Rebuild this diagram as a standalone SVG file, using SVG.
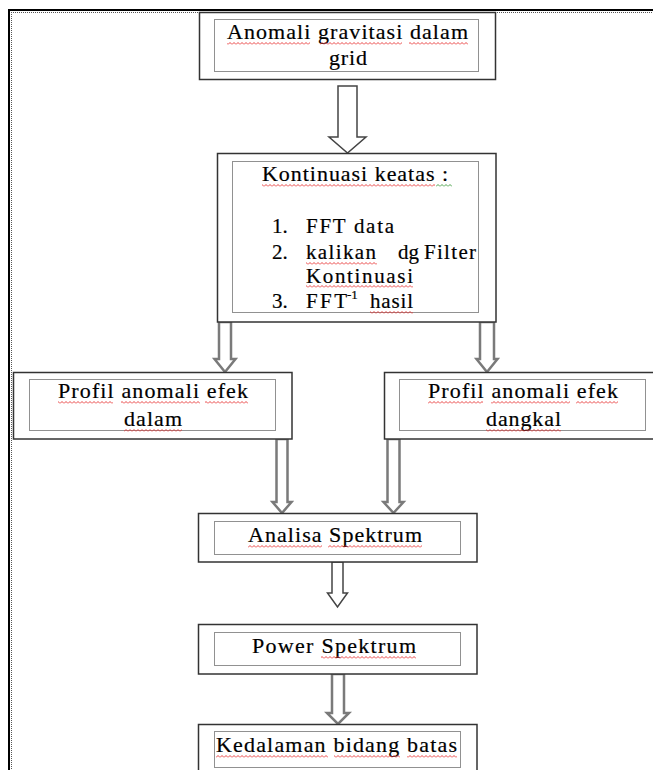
<svg xmlns="http://www.w3.org/2000/svg" width="653" height="770" viewBox="0 0 653 770">
<style>
.box{fill:#fff;stroke:#333;stroke-width:1.5}
.inner{fill:none;stroke:#222;stroke-width:1;stroke-dasharray:1 1}
.t{font-family:"Liberation Serif","Times New Roman",serif;font-size:22px;fill:#000;stroke:#000;stroke-width:0.2}
.s{font-size:21px}
.arB{fill:#fff;stroke:#444;stroke-width:1.5;stroke-linejoin:miter}
.arG{fill:#fff;stroke:#7a7a7a;stroke-width:2.5;stroke-linejoin:miter}
.wr{fill:url(#waveR)}
.wg{fill:url(#waveG)}
</style>
<defs>
<pattern id="waveR" width="4" height="3" patternUnits="userSpaceOnUse"><path d="M0 2.5 L2 0.5 L4 2.5" fill="none" stroke="#e83030" stroke-width="0.9"/></pattern>
<pattern id="waveG" width="4" height="3" patternUnits="userSpaceOnUse"><path d="M0 2.5 L2 0.5 L4 2.5" fill="none" stroke="#3a9a3a" stroke-width="0.9"/></pattern>
</defs>
<rect width="653" height="770" fill="#fff"/>
<g id="frame">
<line x1="8" y1="10" x2="653" y2="10" stroke="#000" stroke-width="2"/>
<line x1="9" y1="9" x2="9" y2="770" stroke="#000" stroke-width="2"/>
<line x1="11" y1="12.5" x2="653" y2="12.5" stroke="#555" stroke-width="1" stroke-dasharray="1 1"/>
<line x1="11.5" y1="12" x2="11.5" y2="770" stroke="#555" stroke-width="1" stroke-dasharray="1 1"/>
</g>
<g id="connectors">
<polygon class="arB" points="338,86 357,86 357,137 366,137 347.5,153 329,137 338,137"/>
<polygon class="arG" points="219,322 231,322 231,359 235.5,359 225,372 214.5,359 219,359"/>
<polygon class="arG" points="480,322 494,322 494,359 497.5,359 487,372 476.5,359 480,359"/>
<polygon class="arG" points="276.5,439 287.5,439 287.5,502 291.5,502 282,513 272.5,502 276.5,502"/>
<polygon class="arG" points="387.5,439 399.5,439 399.5,502 403.5,502 393.5,513 383.5,502 387.5,502"/>
<polygon class="arB" points="332,562 343,562 343,593 347.5,593 337.5,607 327.5,593 332,593"/>
<polygon class="arG" points="332,674 344,674 344,713 349,713 338,724 327,713 332,713"/>
</g>
<g id="n1">
<rect class="box" x="199.5" y="12.5" width="296" height="67"/>
<rect class="inner" x="214.5" y="19.5" width="264" height="52"/>
<text class="t" x="227" y="39" textLength="241" lengthAdjust="spacing">Anomali gravitasi dalam</text>
<text class="t" x="329" y="65" textLength="38" lengthAdjust="spacing">grid</text>
<g transform="translate(0,39)"><rect class="wr" x="227" y="3" width="83" height="3"/><rect class="wr" x="320" y="3" width="82" height="3"/><rect class="wr" x="409" y="3" width="59" height="3"/></g>
</g>
<g id="n2">
<rect class="box" x="217.5" y="153.5" width="278.5" height="168.5"/>
<rect class="inner" x="232.5" y="161.5" width="246" height="151"/>
<text class="t" x="262" y="181" textLength="186" lengthAdjust="spacing">Kontinuasi keatas :</text>
<text class="t s" x="272" y="233">1.</text>
<text class="t s" x="306" y="233" textLength="88" lengthAdjust="spacing">FFT data</text>
<text class="t s" x="272" y="259">2.</text>
<text class="t s" x="306" y="259" textLength="70" lengthAdjust="spacing">kalikan</text>
<text class="t s" x="398" y="259">dg</text>
<text class="t s" x="424" y="259" textLength="52" lengthAdjust="spacing">Filter</text>
<text class="t s" x="306" y="283" textLength="107" lengthAdjust="spacing">Kontinuasi</text>
<text class="t s" x="272" y="308">3.</text>
<text class="t s" x="306" y="308" textLength="41" lengthAdjust="spacing">FFT</text>
<text class="t" x="347" y="299" style="font-size:13px">-1</text>
<text class="t s" x="370" y="308" textLength="43" lengthAdjust="spacing">hasil</text>
<g transform="translate(0,181)"><rect class="wr" x="262" y="3" width="173" height="3"/><rect class="wg" x="436" y="3" width="16" height="3"/></g>
<g transform="translate(0,259)"><rect class="wr" x="306" y="3" width="71" height="3"/></g>
<g transform="translate(0,282)"><rect class="wr" x="306" y="3" width="107" height="3"/></g>
<g transform="translate(0,308)"><rect class="wr" x="370" y="3" width="43" height="3"/></g>
</g>
<g id="n3">
<rect class="box" x="13.5" y="372.5" width="278.5" height="66.5"/>
<rect class="inner" x="29.5" y="379.5" width="246" height="51"/>
<text class="t" x="58" y="398" textLength="190" lengthAdjust="spacing">Profil anomali efek</text>
<text class="t" x="124" y="426" textLength="58" lengthAdjust="spacing">dalam</text>
<g transform="translate(0,398)"><rect class="wr" x="58" y="3" width="55" height="3"/><rect class="wr" x="121" y="3" width="79" height="3"/><rect class="wr" x="205" y="3" width="43" height="3"/></g>
<g transform="translate(0,426)"><rect class="wr" x="124" y="3" width="58" height="3"/></g>
</g>
<g id="n4">
<rect class="box" x="384.5" y="372.5" width="278.5" height="66.5"/>
<rect class="inner" x="399.5" y="379.5" width="246" height="51"/>
<text class="t" x="428" y="398" textLength="190" lengthAdjust="spacing">Profil anomali efek</text>
<text class="t" x="486" y="426" textLength="75" lengthAdjust="spacing">dangkal</text>
<g transform="translate(0,398)"><rect class="wr" x="428" y="3" width="55" height="3"/><rect class="wr" x="491" y="3" width="79" height="3"/><rect class="wr" x="576" y="3" width="42" height="3"/></g>
<g transform="translate(0,426)"><rect class="wr" x="486" y="3" width="75" height="3"/></g>
</g>
<g id="n5">
<rect class="box" x="198.5" y="513.5" width="278.5" height="48.5"/>
<rect class="inner" x="214.5" y="521.5" width="246" height="33"/>
<text class="t" x="248" y="542" textLength="174" lengthAdjust="spacing">Analisa Spektrum</text>
<g transform="translate(0,542)"><rect class="wr" x="248" y="3" width="74" height="3"/><rect class="wr" x="328" y="3" width="94" height="3"/></g>
</g>
<g id="n6">
<rect class="box" x="198.5" y="624.5" width="278.5" height="49.5"/>
<rect class="inner" x="214.5" y="632.5" width="246" height="33"/>
<text class="t" x="252" y="653" textLength="164" lengthAdjust="spacing">Power Spektrum</text>
<g transform="translate(0,653)"><rect class="wr" x="321" y="3" width="95" height="3"/></g>
</g>
<g id="n7">
<rect class="box" x="198.5" y="724.5" width="278.5" height="52"/>
<rect class="inner" x="214.5" y="731.5" width="246" height="36"/>
<text class="t" x="216" y="752" textLength="241" lengthAdjust="spacing">Kedalaman bidang batas</text>
<g transform="translate(0,752)"><rect class="wr" x="216" y="3" width="112" height="3"/><rect class="wr" x="334" y="3" width="66" height="3"/><rect class="wr" x="407" y="3" width="50" height="3"/></g>
</g>
</svg>
